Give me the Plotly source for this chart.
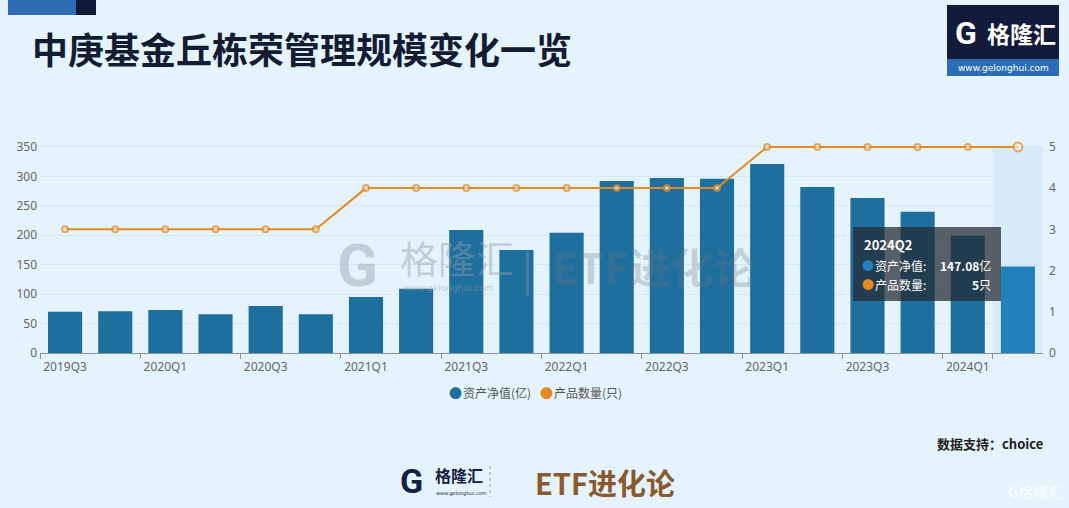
import plotly.graph_objects as go

categories = ["2019Q3", "2019Q4", "2020Q1", "2020Q2", "2020Q3", "2020Q4",
              "2021Q1", "2021Q2", "2021Q3", "2021Q4", "2022Q1", "2022Q2",
              "2022Q3", "2022Q4", "2023Q1", "2023Q2", "2023Q3", "2023Q4",
              "2024Q1", "2024Q2"]
net_assets = [70, 71, 73, 66, 80, 66, 95, 109, 209, 175, 204, 292,
              297, 296, 321, 282, 263, 240, 199, 147.08]
product_count = [3, 3, 3, 3, 3, 3, 4, 4, 4, 4, 4, 4, 4, 4, 5, 5, 5, 5, 5, 5]
left_ticks = [0, 50, 100, 150, 200, 250, 300, 350]
right_ticks = [0, 1, 2, 3, 4, 5]

BG = "#E4F3FC"
BAR = "#1E6E9E"
BAR_HI = "#2280BA"
ORANGE = "#E38B22"
FONT = "Noto Sans CJK SC"

n = len(categories)
bar_colors = [BAR] * (n - 1) + [BAR_HI]
marker_sizes = [6] * (n - 1) + [9]

Y_MAX = 360  # a little headroom so the line at the top is not clipped
Y2_MAX = Y_MAX / 70.0

fig = go.Figure()
# hover band on last category
fig.add_shape(type="rect", xref="x", yref="y", x0=n - 1.5, x1=n - 0.5,
              y0=0, y1=350, fillcolor="rgba(195,220,240,0.35)",
              line_width=0, layer="below")
fig.add_trace(go.Bar(x=categories, y=net_assets, marker_color=bar_colors,
                     marker_line_width=0, width=0.68, name="资产净值(亿)",
                     yaxis="y"))
fig.add_trace(go.Scatter(x=categories, y=product_count, mode="lines+markers",
                         line=dict(color=ORANGE, width=2), cliponaxis=False,
                         marker=dict(size=marker_sizes, color="#F4EBDD",
                                     line=dict(color=ORANGE, width=2)),
                         name="产品数量(只)", yaxis="y2"))

TICKFONT = dict(size=12, color="#666", family="Noto Sans")

fig.update_layout(
    width=1069, height=508,
    paper_bgcolor=BG, plot_bgcolor=BG,
    margin=dict(l=40, r=26, t=141, b=155),
    showlegend=False,
    bargap=0.32,
    font=dict(family=FONT, color="#666"),
    xaxis=dict(type="category", tickmode="array",
               tickvals=categories[::2], ticktext=categories[::2],
               tickson="boundaries", ticks="outside", ticklen=5,
               tickcolor="#8a949c", showline=True, linecolor="#8a949c",
               linewidth=1, showgrid=False, tickfont=TICKFONT, tickangle=0,
               ticklabelstandoff=3, range=[-0.5, n - 0.5]),
    yaxis=dict(range=[0, Y_MAX], tickvals=left_ticks, showgrid=True,
               gridcolor="#D6E8F3", gridwidth=1, zeroline=False,
               tickfont=TICKFONT, ticks="", showline=False,
               ticklabelstandoff=2),
    yaxis2=dict(range=[0, Y2_MAX], tickvals=right_ticks, overlaying="y",
                side="right", showgrid=False, zeroline=False,
                tickfont=TICKFONT, showline=False, ticklabelstandoff=5),
)

PT, PB = 141, 353


def px_x(x):
    return (x - 40) / 1003


def px_y(y):
    return (PB - y) / (PB - PT)


def R(x0, x1, y0, y1, color):
    fig.add_shape(type="rect", xref="x domain", yref="y domain",
                  x0=px_x(x0), x1=px_x(x1), y0=px_y(y0), y1=px_y(y1),
                  fillcolor=color, line_width=0, layer="above")


# top-left decorative blocks
R(8, 76, 0, 15, "#2E6DB4")
R(76, 96, 0, 15, "#101A38")
# top-right logo
R(947, 1059, 5, 76, "#121B3A")
R(947, 1059, 59, 76, "#2C6DB8")
# tooltip box
R(853, 1001, 227, 301, "rgba(38,44,52,0.74)")
# footer divider
fig.add_shape(type="line", xref="x domain", yref="y domain",
              x0=px_x(490), x1=px_x(490), y0=px_y(466), y1=px_y(497),
              line=dict(color="#9a9a9a", width=1, dash="dot"), layer="above")

ann = []


def A(x, y, text, size=12, color="#333", xanchor="left", bold=False, family=FONT, **kw):
    if bold:
        text = "<b>" + text + "</b>"
    ann.append(dict(xref="x domain", yref="y domain", x=px_x(x), y=px_y(y),
                    text=text, showarrow=False, xanchor=xanchor, yanchor="middle",
                    font=dict(size=size, color=color, family=family), **kw))


A(30, 48, "中庚基金丘栋荣管理规模变化一览", size=36, color="#141C33", bold=True)
A(953, 33, "<b>G</b>", size=32, color="white", family="Roboto")
A(985, 33, "格隆汇", size=23, color="white", bold=True)
A(1003, 68, "www.gelonghui.com", size=9, color="white", xanchor="center", family="DejaVu Sans")

# watermark
A(335, 265, "<b>G</b>", size=60, color="rgba(150,160,170,0.45)", family="Roboto")
A(398, 256, "格隆汇", size=38, color="rgba(150,160,170,0.45)")
A(401, 288, "www.gelonghui.com", size=9, color="rgba(150,160,170,0.5)", family="DejaVu Sans")
A(520, 268, "|", size=40, color="rgba(150,160,170,0.4)")
A(550, 265, "<b>ETF进化论</b>", size=42, color="rgba(110,120,130,0.3)")

# legend
A(447, 392, "●", size=13, color=BAR)
A(461, 392, "资产净值(亿)", size=12, color="#555")
A(538, 392, "●", size=13, color=ORANGE)
A(552, 392, "产品数量(只)", size=12, color="#555")

# tooltip text
A(862, 244, "2024Q2", size=13, color="white", bold=True)
A(860, 265, "●", size=12, color=BAR_HI)
A(873, 265, "资产净值:", size=12, color="white")
A(993, 265, "<b>147.08</b>亿", size=12, color="white", xanchor="right")
A(860, 284, "●", size=12, color=ORANGE)
A(873, 284, "产品数量:", size=12, color="white")
A(993, 284, "<b>5</b>只", size=12, color="white", xanchor="right")

# footer
A(1045, 443, "<b>数据支持：choice</b>", size=13, color="#222", xanchor="right")
A(398, 481, "<b>G</b>", size=34, color="#132042", family="Roboto")
A(433, 475, "<b>格隆汇</b>", size=16, color="#132042")
A(434, 493, "www.gelonghui.com", size=5, color="#132042", family="DejaVu Sans")
A(533, 482, "<b>ETF进化论</b>", size=29, color="#8A5A2E")
A(1006, 491, "G格隆汇", size=15, color="rgba(255,255,255,0.85)")

fig.update_layout(annotations=ann)
fig.write_html("out.html", config={"displayModeBar": False},
               post_script="document.body.style.margin='0';")
